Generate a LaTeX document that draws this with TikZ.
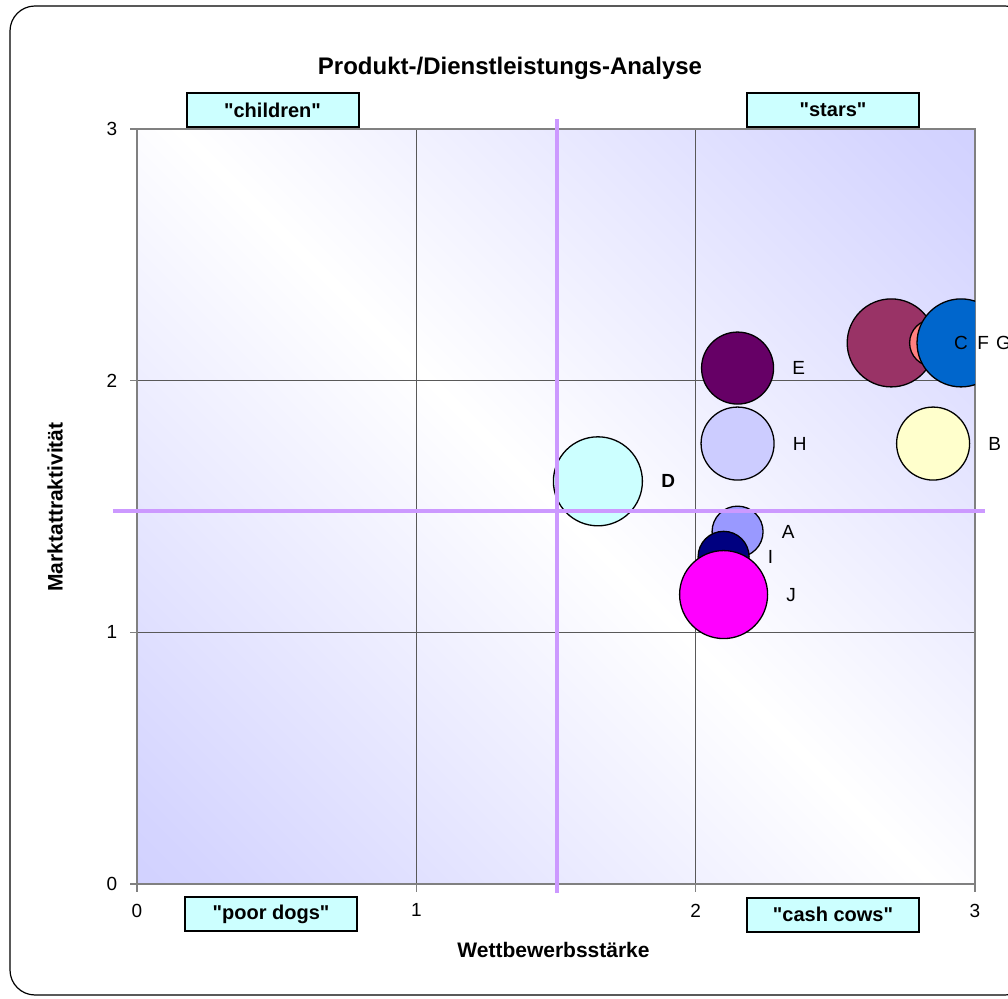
\documentclass[tikz,border=0pt]{standalone}
\usepackage{fontspec}
\setmainfont{Liberation Sans}
\usepackage{tikz}
\usetikzlibrary{positioning, calc}
\definecolor{lavender}{RGB}{196,196,255}
\definecolor{boxcyan}{RGB}{204,255,255}
\definecolor{divpurple}{RGB}{204,153,255}
\definecolor{bubA}{RGB}{153,153,255}
\definecolor{bubB}{RGB}{255,255,204}
\definecolor{bubC}{RGB}{153,51,102}
\definecolor{bubD}{RGB}{204,255,255}
\definecolor{bubE}{RGB}{102,0,102}
\definecolor{bubF}{RGB}{255,128,128}
\definecolor{bubG}{RGB}{0,102,204}
\definecolor{bubH}{RGB}{204,204,255}
\definecolor{bubI}{RGB}{0,0,128}
\definecolor{bubJ}{RGB}{255,0,255}
\pgfdeclareverticalshading{diagfade}{100bp}{color(0bp)=(lavender); color(18bp)=(lavender!72!white); color(50bp)=(white); color(82bp)=(lavender!72!white); color(100bp)=(lavender)}
\tikzset{
  bubble/.style={circle, draw=black, line width=1.3pt, inner sep=0pt},
  bublabel/.style={inner sep=0pt, font=\fontsize{19}{22}\selectfont},
  quadbox/.style={rectangle, draw=black, line width=2pt, fill=boxcyan, minimum width=172pt, minimum height=34pt, inner sep=0pt, font=\fontsize{20}{23}\selectfont\bfseries},
  ticklabel/.style={inner sep=0pt, font=\fontsize{19}{22}\selectfont},
  axtitle/.style={inner sep=0pt, font=\fontsize{21}{24}\selectfont\bfseries},
  gridline/.style={draw=black!65, line width=1.2pt},
  axisline/.style={draw=black!50, line width=1.5pt},
  divline/.style={draw=divpurple, line width=4pt},
}
\newcommand{\qq}[1]{\textquotedbl#1\textquotedbl}

\begin{document}
\begin{tikzpicture}[x=1pt, y=1pt]
  \useasboundingbox (0,0) rectangle (1008,998);
  % outer frame
  \draw[line width=1.2pt, rounded corners=25pt] (10,3) rectangle (1030,992);

  \node[font=\fontsize{24}{27}\selectfont\bfseries] (title) at (510,930) {Produkt-/Dienstleistungs-Analyse};

  \begin{scope}[shift={(137,114)}, x=279.33pt, y=251.67pt]
    % plot area
    \shade[shading=diagfade, shading angle=-45] (0,0) rectangle (3,3);
    \foreach \v in {1,2} {
      \draw[gridline] (\v,0) -- (\v,3);
      \draw[gridline] (0,\v) -- (3,\v);
    }
    \draw[axisline] (0,0) rectangle (3,3);

    % ticks
    \foreach \v in {0,...,3} {
      \draw[axisline] (\v,0) -- ++(0,-8pt) node[ticklabel, below=11pt] (xt\v) {\v};
      \draw[axisline] (0,\v) -- ++(-7pt,0) node[ticklabel, left=12pt] (yt\v) {\v};
    }

    % bubbles
    \begin{scope}
      \clip (0,0) rectangle (3,3);
      \node[bubble, fill=bubA, minimum size=51pt] (a) at (2.15,1.40) {};
      \node[bubble, fill=bubB, minimum size=73pt] (b) at (2.85,1.75) {};
      \node[bubble, fill=bubC, minimum size=88pt] (c) at (2.70,2.15) {};
      \node[bubble, fill=bubD, minimum size=89pt] (d) at (1.65,1.60) {};
      \node[bubble, fill=bubE, minimum size=72pt] (e) at (2.15,2.05) {};
      \node[bubble, fill=bubF, minimum size=47pt] (f) at (2.85,2.15) {};
      \node[bubble, fill=bubG, minimum size=88pt] (g) at (2.95,2.15) {};
      \node[bubble, fill=bubH, minimum size=73pt] (h) at (2.15,1.75) {};
      \node[bubble, fill=bubI, minimum size=51pt] (i) at (2.10,1.30) {};
      \node[bubble, fill=bubJ, minimum size=88pt] (j) at (2.10,1.15) {};
    \end{scope}
    \coordinate (gedge) at (3,2.15);

    % quadrant dividers
    \draw[divline] (1.504,-0.036) -- (1.504,3.04);
    \draw[divline] (-0.086,1.482) -- (3.036,1.482);
  \end{scope}

  % bubble labels
  \node[bublabel, right=18pt of a] (la) {A};
  \node[bublabel, right=18pt of b] (lb) {B};
  \node[bublabel, right=18pt of c] (lc) {C};
  \node[bublabel, right=18pt of d, font=\fontsize{19}{22}\selectfont\bfseries] (ld) {D};
  \node[bublabel, right=18pt of e] (le) {E};
  \node[bublabel, right=20pt of f] (lf) {F};
  \node[bublabel, right=21pt of gedge] (lg) {G};
  \node[bublabel, right=18pt of h] (lh) {H};
  \node[bublabel, right=18pt of i] (li) {I};
  \node[bublabel, right=18pt of j] (lj) {J};

  % quadrant names
  \node[quadbox] (children) at (272.5,888) {\qq{children}};
  \node[quadbox] (stars) at (833,888) {\qq{stars}};
  \node[quadbox] (dogs) at (271,84) {\qq{poor dogs}};
  \node[quadbox] (cows) at (833,83.5) {\qq{cash cows}};

  % axis titles
  \node[axtitle] (xtitle) at (553.5,48) {Wettbewerbsstärke};
  \node[axtitle, rotate=90] (ytitle) at (55,491) {Marktattraktivität};
\end{tikzpicture}
\end{document}
